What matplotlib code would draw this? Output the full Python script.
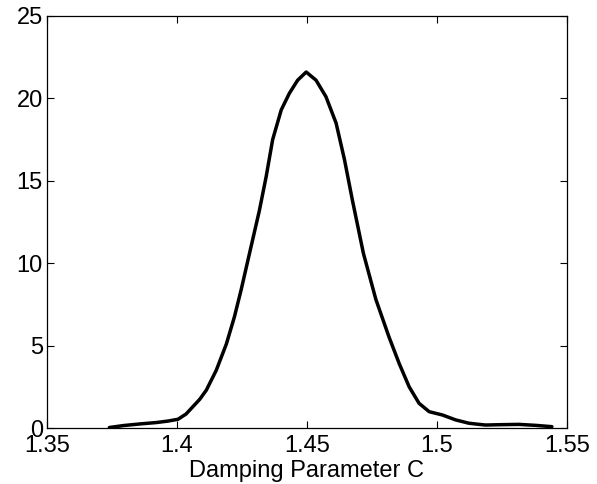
import numpy as np
import matplotlib
matplotlib.use('Agg')
import matplotlib.pyplot as plt

plt.rcParams['font.family'] = ['Liberation Sans', 'DejaVu Sans']

# density estimate of damping parameter C
c_vals = [1.374, 1.3795, 1.386, 1.392, 1.3965, 1.4004, 1.4035, 1.4061, 1.4088,
          1.4113, 1.4151, 1.4190, 1.4221, 1.4247, 1.4279, 1.4317, 1.4343,
          1.4368, 1.4401, 1.4432, 1.4464, 1.4497, 1.4535, 1.4573, 1.4612,
          1.4644, 1.4675, 1.4717, 1.4765, 1.4816, 1.4855, 1.4893, 1.4931,
          1.4970, 1.5021, 1.5072, 1.5123, 1.5162, 1.5187, 1.524, 1.5315,
          1.538, 1.5442]
density = [0.03, 0.15, 0.25, 0.33, 0.42, 0.53, 0.85, 1.29, 1.75,
           2.3, 3.5, 5.1, 6.75, 8.4, 10.6, 13.2, 15.25,
           17.5, 19.3, 20.3, 21.1, 21.6, 21.1, 20.1, 18.5,
           16.3, 13.8, 10.6, 7.8, 5.5, 3.9, 2.5, 1.5,
           0.99, 0.79, 0.49, 0.29, 0.22, 0.18, 0.2, 0.22,
           0.16, 0.08]

fig = plt.figure(figsize=(5.97, 4.84), dpi=100)
ax = fig.add_axes([0.0787, 0.1157, 0.871, 0.8513])

ax.plot(c_vals, density, color='black', linewidth=2.5,
        solid_joinstyle='round', solid_capstyle='round')

ax.set_xlim(1.35, 1.55)
ax.set_ylim(0, 25)
ax.set_xticks([1.35, 1.4, 1.45, 1.5, 1.55])
ax.set_xticklabels(['1.35', '1.4', '1.45', '1.5', '1.55'])
ax.set_yticks([0, 5, 10, 15, 20, 25])
ax.tick_params(direction='in', top=True, right=True, length=5, width=0.8,
               labelsize=17)
ax.tick_params(axis='x', pad=5)
ax.tick_params(axis='y', pad=3)
for s in ax.spines.values():
    s.set_linewidth(0.9)
ax.set_xlabel('Damping Parameter C', fontsize=17, labelpad=2)

fig.savefig('out.png', dpi=100)
